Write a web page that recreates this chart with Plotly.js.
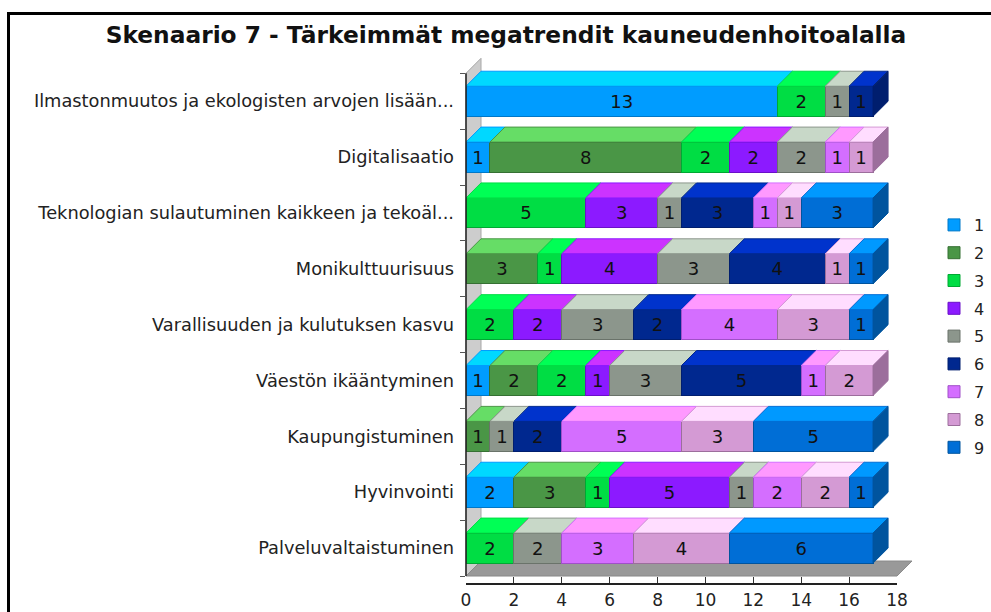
<!DOCTYPE html>
<html><head><meta charset="utf-8">
<script src="https://cdn.plot.ly/plotly-3.0.1.min.js"></script>
<style>html,body{margin:0;padding:0;background:#fff;}#chart{width:991px;height:612px;}</style>
</head><body><div id="chart"></div>
<script>
const chartTitle = 'Skenaario 7 - Tärkeimmät megatrendit kauneudenhoitoalalla';
const categories = [
  'Ilmastonmuutos ja ekologisten arvojen lisään...',
  'Digitalisaatio',
  'Teknologian sulautuminen kaikkeen ja tekoäl...',
  'Monikulttuurisuus',
  'Varallisuuden ja kulutuksen kasvu',
  'Väestön ikääntyminen',
  'Kaupungistuminen',
  'Hyvinvointi',
  'Palveluvaltaistuminen'
];
const seriesNames = ['1','2','3','4','5','6','7','8','9'];
const s1 = [13,1,0,0,0,1,0,2,0];
const s2 = [0,8,0,3,0,2,1,3,0];
const s3 = [2,2,5,1,2,2,0,1,2];
const s4 = [0,2,3,4,2,1,0,5,0];
const s5 = [1,2,1,3,3,3,1,1,2];
const s6 = [1,0,3,4,2,5,2,0,0];
const s7 = [0,1,1,0,4,1,5,2,3];
const s8 = [0,1,1,1,3,2,3,2,4];
const s9 = [0,0,3,1,1,0,5,1,6];
const xTicks = [0,2,4,6,8,10,12,14,16,18];

const seriesValues = [s1,s2,s3,s4,s5,s6,s7,s8,s9];
const frontColors = ['#009cff','#4a9646','#00dd44','#8c1aff','#8c968c','#00288f','#d46eff','#d49ad4','#006ed6'];
const topColors   = ['#00d8ff','#66dd66','#00ff55','#cc33ff','#c8d8c8','#0033cc','#ff99ff','#ffddff','#0099ff'];
const sideColors  = ['#0078c8','#357033','#00a833','#6a10c8','#6a736a','#001e6e','#a050c8','#9c6e9c','#00549e'];

// geometry (style)
const BW = 0.537;     // bar thickness (category units)
const DX = 0.627;     // depth in x units
const DY = 0.2685;    // depth in category units
const X_MAX = 18;
const Y_BOTTOM = 8.625, Y_TOP = -0.8276;
const MARGIN = {l:466, r:94, t:55, b:29};
const PW = 991 - MARGIN.l - MARGIN.r, PH = 612 - MARGIN.t - MARGIN.b;

const rowIdx = categories.map((c,i)=>i);
const xp = v => v / X_MAX;
const yp = v => (Y_BOTTOM - v) / (Y_BOTTOM - Y_TOP);
const pxX = X => (X - MARGIN.l) / PW;
const pxY = Y => (612 - MARGIN.b - Y) / PH;

const traces = [];
seriesValues.forEach((vals, i) => {
  traces.push({
    type:'bar', orientation:'h', name: seriesNames[i],
    legendgroup:'g'+i,
    x: vals.map(v => v || null), y: rowIdx, width: BW,
    marker:{color: frontColors[i], line:{color: sideColors[i], width:1}},
    text: vals.map(v => v ? String(v) : ''),
    textposition:'inside', insidetextanchor:'middle', textangle:0,
    constraintext:'none',
    textfont:{family:'DejaVu Sans', size:18, color:'#111'},
    hoverinfo:'skip'
  });
});

// 3D top faces
const bases = categories.map(()=>0);
seriesValues.forEach((vals, i) => {
  const xs = [], ys = [];
  vals.forEach((v, r) => {
    if (v > 0) {
      const b = bases[r], yt = r - BW/2;
      xs.push(b, b+v, b+v+DX, b+DX, b, null);
      ys.push(yt, yt, yt-DY, yt-DY, yt, null);
    }
    bases[r] += v;
  });
  traces.push({type:'scatter', mode:'lines', x: xs, y: ys, fill:'toself',
    fillcolor: topColors[i], line:{color: frontColors[i], width:1},
    hoverinfo:'skip', showlegend:false});
});
// side faces (last segment of each row)
seriesValues.forEach((vals, i) => {
  const xs = [], ys = [];
  categories.forEach((c, r) => {
    let last = -1;
    seriesValues.forEach((sv, k) => { if (sv[r] > 0) last = k; });
    if (last === i) {
      const e = bases[r], yt = r - BW/2, yb = r + BW/2;
      xs.push(e, e+DX, e+DX, e, e, null);
      ys.push(yt, yt-DY, yb-DY, yb, yt, null);
    }
  });
  if (xs.length) traces.push({type:'scatter', mode:'lines', x: xs, y: ys, fill:'toself',
    fillcolor: sideColors[i], line:{color: sideColors[i], width:1},
    hoverinfo:'skip', showlegend:false});
});

const n = categories.length;
const boundaries = [];
for (let k = 0; k <= n; k++) boundaries.push(k - 0.5);

const shapes = [
  // left wall
  {type:'path', xref:'paper', yref:'paper', layer:'below',
   path:`M ${xp(0)},${yp(-0.5)} L ${xp(DX)},${yp(-0.5-DY)} L ${xp(DX)},${yp(n-0.5-DY)} L ${xp(0)},${yp(n-0.5)} Z`,
   fillcolor:'#cdcdcd', line:{color:'#a8a8a8', width:1}},
  // floor
  {type:'path', xref:'paper', yref:'paper', layer:'below',
   path:`M ${xp(0)},${yp(n-0.5)} L ${xp(X_MAX)},${yp(n-0.5)} L ${xp(X_MAX+DX)},${yp(n-0.5-DY)} L ${xp(DX)},${yp(n-0.5-DY)} Z`,
   fillcolor:'#999999', line:{color:'#8a8a8a', width:1}},
  // y axis line
  {type:'line', xref:'paper', yref:'paper', layer:'above',
   x0:0, x1:0, y0:yp(-0.5), y1:yp(n-0.5), line:{color:'#222', width:1.5}},
  // outer frame
  {type:'rect', xref:'paper', yref:'paper', layer:'above',
   x0:pxX(8.5), x1:pxX(1010), y0:pxY(13.5), y1:pxY(640),
   line:{color:'#000', width:3}, fillcolor:'rgba(0,0,0,0)'}
];

const layout = {
  width:991, height:612, margin:MARGIN,
  paper_bgcolor:'#fff', plot_bgcolor:'rgba(0,0,0,0)',
  font:{family:'DejaVu Sans', color:'#222'},
  title:{text: chartTitle, font:{family:'DejaVu Sans', size:23.3, weight:'bold', color:'#111'},
    xref:'container', yref:'container', x:506/991, xanchor:'center', y:1-35/612, yanchor:'middle'},
  barmode:'stack', bargap:0,
  hovermode:false, showlegend:true,
  xaxis:{range:[0,X_MAX], tickmode:'array', tickvals:xTicks, ticks:'inside', ticklen:6,
    tickcolor:'#333', tickwidth:1, showline:true, linecolor:'#222', linewidth:1.5,
    showgrid:false, zeroline:false, tickfont:{size:17, color:'#222'}, ticklabelstandoff:1, fixedrange:true},
  yaxis:{range:[Y_BOTTOM, Y_TOP], tickmode:'array', tickvals:rowIdx, ticktext:categories,
    ticks:'', showline:false, showgrid:false, zeroline:false,
    tickfont:{size:17.8, color:'#222'}, ticklabelstandoff:11,
    minor:{tickmode:'array', tickvals:boundaries, ticks:'outside', ticklen:5, tickcolor:'#555', tickwidth:1, showgrid:false},
    fixedrange:true},
  legend:{xref:'container', yref:'container', x:934/991, y:1-208/612, xanchor:'left', yanchor:'top',
    traceorder:'grouped', tracegroupgap:4, font:{size:16, color:'#222'}, bgcolor:'rgba(0,0,0,0)'},
  shapes: shapes
};

Plotly.newPlot('chart', traces, layout, {staticPlot:true, displayModeBar:false});
</script>
</body></html>
